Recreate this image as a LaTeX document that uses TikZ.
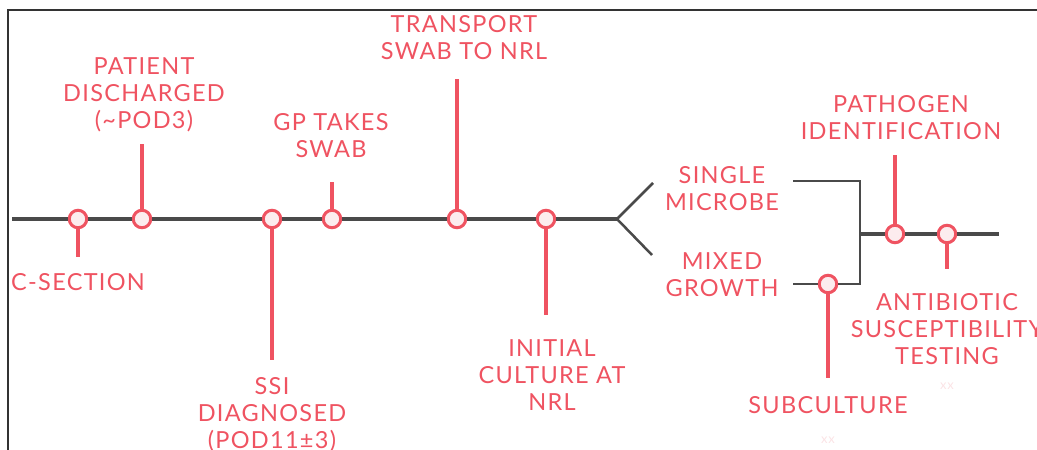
\documentclass[tikz,border=0pt]{standalone}
\usepackage{fontspec}
\setmainfont{Lato}[LetterSpace=5.5]
\usepackage{xcolor}
\usepackage{tikz}
\usetikzlibrary{positioning}

\definecolor{ssired}{HTML}{EF5361}
\definecolor{ssipink}{HTML}{FCECEE}
\definecolor{axisgray}{HTML}{4A4A4A}
\definecolor{faintpink}{HTML}{FBE3E5}

\begin{document}
\begin{tikzpicture}[x=1pt, y=-1pt]
    % Define styles
    \tikzstyle{event} = [circle, draw=ssired, fill=ssipink, line width=3pt, inner sep=0pt, minimum size=17.5pt]
    \tikzstyle{stem} = [draw=ssired, line width=3.5pt]
    \tikzstyle{axis} = [draw=axisgray, line width=3.5pt]
    \tikzstyle{branch} = [draw=axisgray, line width=2.2pt]
    \tikzstyle{eventtext} = [anchor=north, inner sep=0pt, align=center, text=ssired, font=\fontsize{23.5}{27}\selectfont]
    \tikzstyle{faint} = [inner sep=0pt, text=faintpink, font=\fontsize{13}{14}\selectfont]

    \useasboundingbox (0,0) rectangle (1037,450);
    \draw[line width=1.5pt, draw=black!80] (8,450) -- (8,10) -- (1037,10);

    % Nodes
    \coordinate (start) at (12,219);
    \node[event] (csection) at (78,219) {};
    \node[event] (discharged) at (142,219) {};
    \node[event] (ssi) at (272,219) {};
    \node[event] (gpswab) at (332,219) {};
    \node[event] (transport) at (457,219) {};
    \node[event] (culture) at (546,219) {};
    \coordinate (fork) at (617,219);
    \coordinate (fork_up) at (653,183);
    \coordinate (fork_down) at (652,255);

    \coordinate (csection_tip) at (78,257);
    \coordinate (discharged_tip) at (142,144);
    \coordinate (ssi_tip) at (272,360);
    \coordinate (gpswab_tip) at (332,182);
    \coordinate (transport_tip) at (457,79);
    \coordinate (culture_tip) at (546,315);

    \coordinate (single_end) at (793,181);
    \coordinate (mixed_end) at (793,284);
    \coordinate (bracket_bot) at (860,284);
    \coordinate (join) at (860,234);
    \node[event] (subculture) at (828,284) {};
    \node[event] (pathogen) at (895,234) {};
    \node[event] (ast) at (947,234) {};
    \coordinate (finish) at (999,234);
    \coordinate (subculture_tip) at (828,378);
    \coordinate (pathogen_tip) at (895,155);
    \coordinate (ast_tip) at (947,269);

    % Labels
    \node[eventtext] (csection_txt) at (78,273) {C-SECTION};
    \node[eventtext] (discharged_txt) at (144,57) {PATIENT\\DISCHARGED\\(\textasciitilde POD3)};
    \node[eventtext] (ssi_txt) at (272,377) {SSI\\DIAGNOSED\\(POD11±3)};
    \node[eventtext] (gpswab_txt) at (331,113) {GP TAKES\\SWAB};
    \node[eventtext] (transport_txt) at (464,15) {TRANSPORT\\SWAB TO NRL};
    \node[eventtext] (culture_txt) at (552,339) {INITIAL\\CULTURE AT\\NRL};
    \node[eventtext] (single_txt) at (722,166) {SINGLE\\MICROBE};
    \node[eventtext] (mixed_txt) at (722,252) {MIXED\\GROWTH};
    \node[eventtext] (pathogen_txt) at (901,95) {PATHOGEN\\IDENTIFICATION};
    \node[eventtext] (ast_txt) at (947,293) {ANTIBIOTIC\\SUSCEPTIBILITY\\TESTING};
    \node[eventtext] (subculture_txt) at (828,396) {SUBCULTURE};
    \node[faint] (ast_xx) at (947,386) {xx};
    \node[faint] (subculture_xx) at (828,440) {xx};

    % Connections
    \draw[axis] (start) -- (csection) -- (discharged) -- (ssi) -- (gpswab) -- (transport) -- (culture) -- (fork);
    \draw[axis, line width=2.5pt] (fork_up) -- (fork) -- (fork_down);
    \draw[branch] (single_end) -| (bracket_bot) -- (subculture) -- (mixed_end);
    \draw[axis] (join) -- (pathogen) -- (ast) -- (finish);
    \draw[stem] (csection) -- (csection_tip);
    \draw[stem] (discharged) -- (discharged_tip);
    \draw[stem] (ssi) -- (ssi_tip);
    \draw[stem] (gpswab) -- (gpswab_tip);
    \draw[stem] (transport) -- (transport_tip);
    \draw[stem] (culture) -- (culture_tip);
    \draw[stem] (subculture) -- (subculture_tip);
    \draw[stem] (pathogen) -- (pathogen_tip);
    \draw[stem] (ast) -- (ast_tip);
\end{tikzpicture}
\end{document}
